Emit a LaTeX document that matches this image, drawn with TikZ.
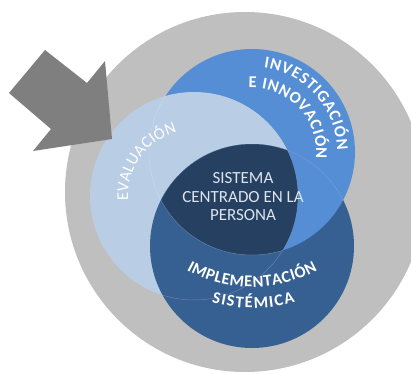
\documentclass[tikz,border=0pt]{standalone}
\usepackage{fontspec}
\setmainfont{Carlito}
\usepackage{tikz}
\usetikzlibrary{decorations.text}
\definecolor{ringgray}{RGB}{191,191,191}
\definecolor{arrowgray}{RGB}{127,127,127}
\definecolor{evalblue}{RGB}{185,205,229}
\definecolor{invblue}{RGB}{85,142,213}
\definecolor{implblue}{RGB}{54,96,146}
\definecolor{corenavy}{RGB}{37,64,97}
\definecolor{coretext}{RGB}{222,228,236}
\tikzstyle{core}=[text=coretext, align=center, font=\fontsize{17}{18.5}\selectfont]
\tikzstyle{arclabel}=[decorate, decoration={text along path, text align=fit to path, text color=white}]
\tikzstyle{seam}=[draw=white, opacity=0.22, line width=0.5]
\newcommand{\ringfont}{\fontsize{16.5}{16.5}\selectfont\bfseries}
\newcommand{\evalfont}{\fontsize{16.5}{16.5}\selectfont}

\begin{document}
\begin{tikzpicture}[x=1pt, y=1pt]
    \useasboundingbox (0,0) rectangle (411,373);
    % outer disc
    \begin{scope}
        \clip (0,0) rectangle (411,373);
        \fill [ringgray] (245,181) circle (180);
    \end{scope}
    % the three discs, each one over the next
    \fill [invblue] (252,221) circle (103);
    \fill [evalblue] (194,177) circle (104);
    \fill [implblue] (252,127) circle (102);
    \begin{scope}
        \clip (252,127) circle (102);
        \fill [invblue] (252,221) circle (103);
    \end{scope}
    \begin{scope}
        \clip (252,221) circle (103);
        \clip (194,177) circle (104);
        \fill [corenavy] (252,127) circle (102);
    \end{scope}
    % faint seams of the hidden edges
    \begin{scope}
        \clip (194,177) circle (104);
        \path [seam] (252,221) circle (103);
    \end{scope}
    \begin{scope}
        \clip (252,127) circle (102);
        \path [seam] (194,177) circle (104);
    \end{scope}
    \begin{scope}
        \clip (252,221) circle (103);
        \path [seam] (252,127) circle (102);
    \end{scope}
    % arrow
    \fill [arrowgray] (9,280) -- (45,323) -- (87,290) -- (105,312) -- (112,234) -- (33,222) -- (51,244) -- cycle;
    % labels
    \node [core] (persona) at (243,176) {SISTEMA\\CENTRADO EN LA\\PERSONA};
    \path [arclabel, decoration={text={|\evalfont|EVALUACIÓN}}] (194,177) ++(184:66) arc (184:105:66);
    \path [arclabel, decoration={text={|\ringfont|INVESTIGACIÓN}}] (252,221) ++(82:85) arc (82:1:85);
    \path [arclabel, decoration={text={|\ringfont|E INNOVACIÓN}}] (252,221) ++(93:64) arc (93:-6:64);
    \path [arclabel, decoration={text={|\ringfont|IMPLEMENTACIÓN}}] (252,221) ++(241:135) arc (241:299:135);
    \path [arclabel, decoration={text={|\ringfont|SISTÉMICA}}] (252,221) ++(255:156) arc (255:286:156);
\end{tikzpicture}
\end{document}
